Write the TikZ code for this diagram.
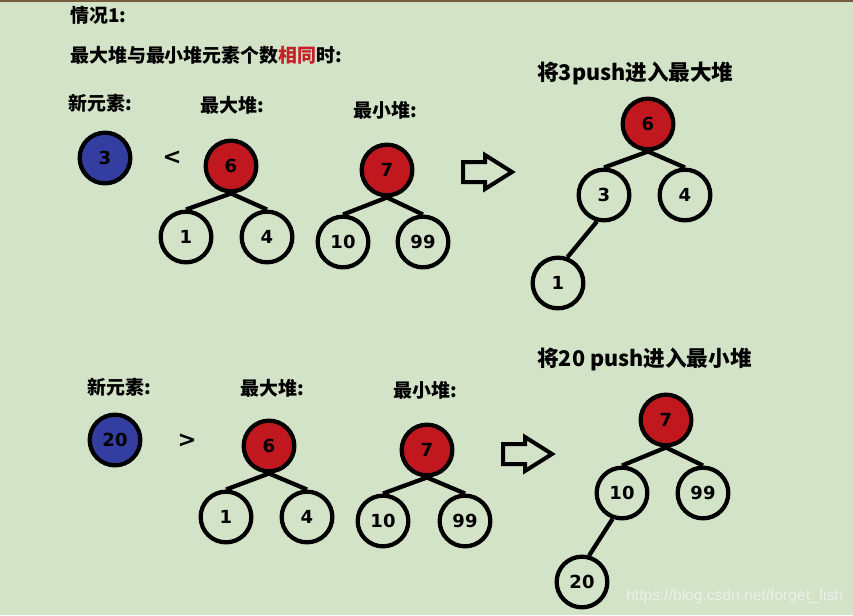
\documentclass[tikz,border=0pt]{standalone}
\usepackage{fontspec}
\setmainfont{DejaVu Sans}
\newfontfamily\cjk{Noto Sans CJK SC}
\newfontfamily\numfont{DejaVu Sans}
\newfontfamily\wmfont{Liberation Sans}
\definecolor{bgc}{RGB}{211,227,199}
\definecolor{hred}{RGB}{193,24,31}
\definecolor{hblue}{RGB}{51,62,160}
\definecolor{txtred}{RGB}{200,30,40}
\definecolor{brd}{RGB}{120,90,60}
\definecolor{wm}{RGB}{236,240,233}
\begin{document}
\begin{tikzpicture}[x=0.75pt,y=-0.75pt,
  hn/.style={circle,draw=black,line width=3.2pt,minimum size=38pt,inner sep=0pt,
    font=\numfont\bfseries\fontsize{13.5}{13.5}\selectfont},
  rn/.style={hn,fill=hred},
  bn/.style={hn,fill=hblue},
  edge/.style={line width=3.2pt,black},
  lbl/.style={anchor=west,inner sep=0pt,font=\cjk\bfseries\fontsize{14.2}{16}\selectfont},
  ttl/.style={anchor=west,inner sep=0pt,font=\cjk\bfseries\fontsize{16.2}{18}\selectfont},
  cmp/.style={inner sep=0pt,font=\numfont\bfseries\fontsize{17}{17}\selectfont},
  blockarrow/.style={draw=black,line width=3pt,line join=miter}]
\useasboundingbox (0,0) rectangle (853,615);
\fill[bgc] (0,0) rectangle (853,615);
\fill[brd] (0,0) rectangle (853,2);

% texts
\node[lbl] (t1) at (70,15) {情况1:};
\node[lbl] (t2) at (70,55) {最大堆与最小堆元素个数\textcolor{txtred}{相同}时:};

% ---------- case 1 ----------
\node[lbl] (n1l) at (68,103) {新元素:};
\node[lbl] (x1l) at (200,105) {最大堆:};
\node[lbl] (m1l) at (353,110) {最小堆:};
\node[bn] (b3) at (105,158) {3};
\node[cmp] (lt) at (172,158) {<};
\node[rn] (a6) at (231,166) {6};
\node[hn] (a1) at (186,237) {1};
\node[hn] (a4) at (267,237) {4};
\node[rn] (c7) at (387,170) {7};
\node[hn] (c10) at (343,242) {10};
\node[hn] (c99) at (423,242) {99};
\draw[edge] (a6.south) -- (a1.north);
\draw[edge] (a6.south) -- (a4.north);
\draw[edge] (c7.south) -- (c10.north);
\draw[edge] (c7.south) -- (c99.north);

\draw[blockarrow] (463,162) -- (485,162) -- (485,155) -- (512,172) -- (485,189) -- (485,182) -- (463,182) -- cycle;

\node[ttl] (r1t) at (537,73) {将3push进入最大堆};
\node[rn] (r6) at (648,124) {6};
\node[hn] (r3) at (604,195) {3};
\node[hn] (r4) at (685,195) {4};
\node[hn] (r1) at (558,283) {1};
\draw[edge] (r6.south) -- (r3.north);
\draw[edge] (r6.south) -- (r4.north);
\draw[edge] (r3.255) -- (r1.70);

% ---------- case 2 ----------
\node[lbl] (n2l) at (87,387) {新元素:};
\node[lbl] (x2l) at (240,388) {最大堆:};
\node[lbl] (m2l) at (393,390) {最小堆:};
\node[bn] (b20) at (115,440) {20};
\node[cmp] (gt) at (187,441) {>};
\node[rn] (d6) at (269,446) {6};
\node[hn] (d1) at (226,517) {1};
\node[hn] (d4) at (307,517) {4};
\node[rn] (e7) at (427,450) {7};
\node[hn] (e10) at (383,521) {10};
\node[hn] (e99) at (465,521) {99};
\draw[edge] (d6.south) -- (d1.north);
\draw[edge] (d6.south) -- (d4.north);
\draw[edge] (e7.south) -- (e10.north);
\draw[edge] (e7.south) -- (e99.north);

\draw[blockarrow] (503,444) -- (525,444) -- (525,437) -- (552,454) -- (525,471) -- (525,464) -- (503,464) -- cycle;

\node[ttl] (r2t) at (537,359) {将20 push进入最小堆};
\node[rn] (s7) at (666,420) {7};
\node[hn] (s10) at (622,493) {10};
\node[hn] (s99) at (703,493) {99};
\node[hn] (s20) at (582,582) {20};
\draw[edge] (s7.south) -- (s10.north);
\draw[edge] (s7.south) -- (s99.north);
\draw[edge] (s10.250) -- (s20.75);

\node[anchor=west,inner sep=0pt,text=wm,font=\wmfont\fontsize{11.7}{11.7}\selectfont] (wm) at (626,596) {https://blog.csdn.net/forget\_fish};
\end{tikzpicture}
\end{document}
